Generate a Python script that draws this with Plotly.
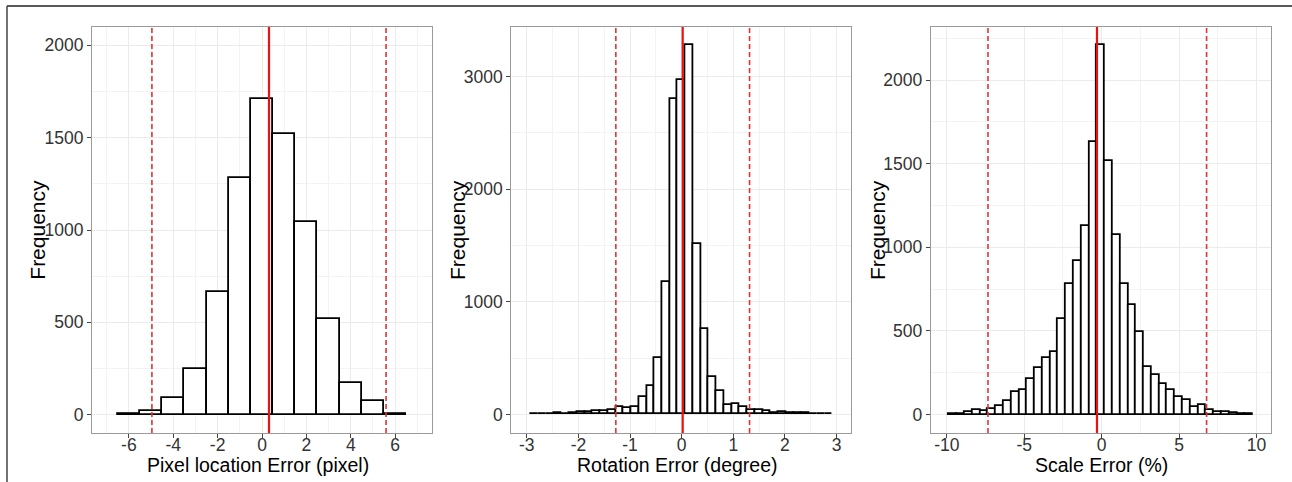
import numpy as np
import plotly.graph_objects as go

# ---------------- data ----------------
# Panel 1: Pixel location error, bins of width 1 centred on integers
px_bin_start = -6.5
px_bin_width = 1.0
px_counts = [3, 22, 92, 247, 666, 1279, 1708, 1519, 1043, 518, 170, 72, 3]
px_mean, px_lo, px_hi = 0.315, -4.96, 5.59

# Panel 2: Rotation error (degree)
rot_bin_start = -2.925
rot_bin_width = 0.15
rot_counts = [3, 5, 8, 15, 8, 10, 20, 20, 30, 30, 38, 65, 56, 62, 157, 252, 498,
              1178, 2797, 2966, 3280, 1513, 756, 329, 211, 83, 92, 62, 42, 42,
              27, 15, 18, 12, 12, 10, 8, 6, 4]
rot_mean, rot_lo, rot_hi = 0.02, -1.275, 1.315

# Panel 3: Scale error (%)
sc_bin_start = -9.85
sc_bin_width = 0.503
sc_counts = [2, 6, 14, 25, 24, 31, 51, 82, 134, 146, 215, 281, 341, 376, 570, 783,
             918, 1129, 1630, 2210, 1516, 1074, 778, 654, 492, 284, 236, 182, 150,
             104, 90, 44, 56, 30, 18, 18, 8, 6, 2]
sc_mean, sc_lo, sc_hi = -0.30, -7.34, 6.78

x_titles = ["Pixel location Error (pixel)", "Rotation Error (degree)", "Scale Error (%)"]
y_title = "Frequency"

px_xticks = [-6, -4, -2, 0, 2, 4, 6]
rot_xticks = [-3, -2, -1, 0, 1, 2, 3]
sc_xticks = [-10, -5, 0, 5, 10]
px_yticks = [0, 500, 1000, 1500, 2000]
rot_yticks = [0, 1000, 2000, 3000]
sc_yticks = [0, 500, 1000, 1500, 2000]

# ---------------- figure ----------------
W, H = 1292, 482
FONT = "Liberation Sans, Arial, sans-serif"

def fx(p):
    return p / W

def fy(p):
    return 1 - p / H

panels = [
    dict(start=px_bin_start, width=px_bin_width, counts=px_counts,
         stats=(px_mean, px_lo, px_hi), xdom=(92, 432), xr=[-7.66, 7.66],
         yr=[-99, 2099], xt=px_xticks, yt=px_yticks, xminor=1, yminor=250,
         xt0=-7, yt0=-250, title_x=258, ytitle_x=36.7),
    dict(start=rot_bin_start, width=rot_bin_width, counts=rot_counts,
         stats=(rot_mean, rot_lo, rot_hi), xdom=(511.3, 851), xr=[-3.30, 3.28],
         yr=[-165, 3440], xt=rot_xticks, yt=rot_yticks, xminor=0.5, yminor=500,
         xt0=-3.5, yt0=-500, title_x=677.5, ytitle_x=457),
    dict(start=sc_bin_start, width=sc_bin_width, counts=sc_counts,
         stats=(sc_mean, sc_lo, sc_hi), xdom=(930.7, 1271), xr=[-11.04, 10.94],
         yr=[-110, 2317], xt=sc_xticks, yt=sc_yticks, xminor=2.5, yminor=250,
         xt0=-12.5, yt0=-250, title_x=1101, ytitle_x=877),
]

fig = go.Figure()
shapes = []
annotations = []
layout_axes = {}

for i, p in enumerate(panels):
    n = i + 1
    xa = "x" if n == 1 else f"x{n}"
    ya = "y" if n == 1 else f"y{n}"
    counts = np.array(p["counts"], dtype=float)
    centers = p["start"] + p["width"] / 2 + np.arange(len(counts)) * p["width"]
    fig.add_trace(go.Bar(
        x=centers, y=counts, width=p["width"],
        marker=dict(color="white", line=dict(color="black", width=1.8)),
        xaxis=xa, yaxis=ya, showlegend=False, hoverinfo="x+y",
    ))
    mean, lo, hi = p["stats"]
    shapes.append(dict(type="line", xref=xa, yref=f"{ya} domain", x0=mean, x1=mean,
                       y0=0, y1=1, line=dict(color="#ee1111", width=2.2), layer="above"))
    for v in (lo, hi):
        shapes.append(dict(type="line", xref=xa, yref=f"{ya} domain", x0=v, x1=v,
                           y0=0, y1=1, line=dict(color="#e83030", width=1.6, dash="5px,3px"),
                           layer="above"))

    common = dict(
        showgrid=True, gridcolor="#ebebeb", gridwidth=1,
        zeroline=False, showline=True, mirror=True, linecolor="#9a9a9a", linewidth=1,
        ticks="outside", ticklen=4, tickwidth=1, tickcolor="#444444",
        tickfont=dict(family=FONT, size=17.5, color="#333333"),
        automargin=False, fixedrange=True,
    )
    xkey = "xaxis" if n == 1 else f"xaxis{n}"
    ykey = "yaxis" if n == 1 else f"yaxis{n}"
    layout_axes[xkey] = dict(
        common, domain=[fx(p["xdom"][0]), fx(p["xdom"][1])], range=p["xr"],
        anchor=ya, tickmode="array", tickvals=p["xt"],
        ticktext=[str(t) for t in p["xt"]], ticklabelstandoff=-8,
        minor=dict(showgrid=True, gridcolor="#f3f3f3", gridwidth=0.6,
                   tick0=p["xt0"], dtick=p["xminor"] * 2, ticks=""),
    )
    layout_axes[ykey] = dict(
        common, domain=[fy(433), fy(27)], range=p["yr"], anchor=xa,
        tickmode="array", tickvals=p["yt"], ticktext=[str(t) for t in p["yt"]],
        minor=dict(showgrid=True, gridcolor="#f3f3f3", gridwidth=0.6,
                   tick0=p["yt0"], dtick=p["yminor"] * 2, ticks=""),
    )
    annotations.append(dict(text=x_titles[i], xref="paper", yref="paper",
                            x=fx(p["title_x"]), y=fy(465), xanchor="center", yanchor="middle",
                            showarrow=False, font=dict(family=FONT, size=19.5, color="black")))
    annotations.append(dict(text=y_title, xref="paper", yref="paper",
                            x=fx(p["ytitle_x"]), y=fy(230), xanchor="center", yanchor="middle",
                            textangle=-90, showarrow=False,
                            font=dict(family=FONT, size=21, color="black")))

# outer figure frame (top and left lines)
shapes.append(dict(type="line", xref="paper", yref="paper", x0=fx(7), x1=1, y0=fy(6), y1=fy(6),
                   line=dict(color="#222222", width=1.5)))
shapes.append(dict(type="line", xref="paper", yref="paper", x0=fx(7), x1=fx(7), y0=0, y1=fy(6),
                   line=dict(color="#444444", width=1.5)))

fig.update_layout(
    width=W, height=H, margin=dict(l=0, r=0, t=0, b=0, pad=0),
    paper_bgcolor="white", plot_bgcolor="white", bargap=0,
    shapes=shapes, annotations=annotations, showlegend=False,
    **layout_axes,
)

fig.write_html("out.html", config={"displayModeBar": False},
               post_script="document.body.style.margin='0';document.body.style.overflow='hidden';")
